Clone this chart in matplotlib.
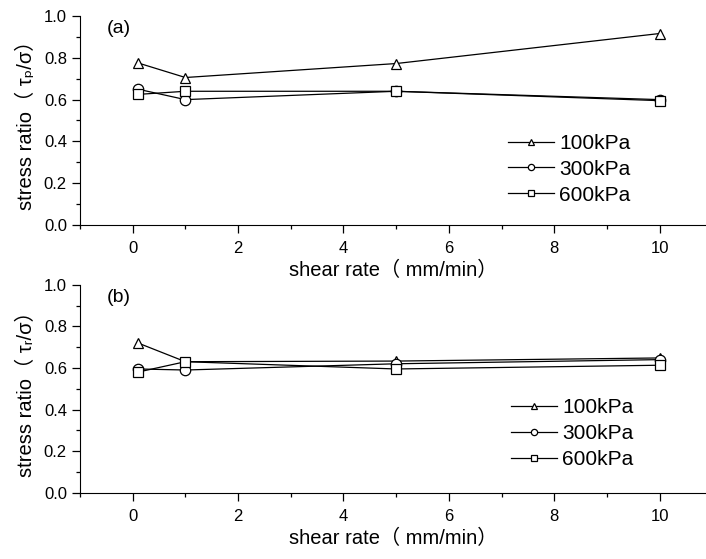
import matplotlib
matplotlib.use('Agg')
import matplotlib.pyplot as plt
from matplotlib.ticker import MultipleLocator

plt.rcParams['font.family'] = ['Liberation Sans', 'Noto Sans CJK SC', 'DejaVu Sans']

rate = [0.1, 1, 5, 10]
labels = ['100kPa', '300kPa', '600kPa']
markers = ['^', 'o', 's']

# (a) peak stress ratio
peak_100 = [0.776, 0.706, 0.773, 0.917]
peak_300 = [0.650, 0.600, 0.640, 0.600]
peak_600 = [0.625, 0.640, 0.640, 0.595]

# (b) residual stress ratio
res_100 = [0.720, 0.630, 0.633, 0.648]
res_300 = [0.595, 0.590, 0.620, 0.640]
res_600 = [0.580, 0.630, 0.595, 0.613]

fig = plt.figure(figsize=(7.06, 5.59), dpi=100)
ax1 = fig.add_axes([0.1133, 0.598, 0.8867, 0.373])
ax2 = fig.add_axes([0.1133, 0.1186, 0.8867, 0.372])

panels = [(ax1, [peak_100, peak_300, peak_600], '(a)', 'stress ratio（ τₚ/σ）', (0.684, 0.436)),
          (ax2, [res_100, res_300, res_600], '(b)', 'stress ratio（ τᵣ/σ）', (0.689, 0.454))]

for ax, series, tag, ylab, lpos in panels:
    for vals, lab, m in zip(series, labels, markers):
        ax.plot(rate, vals, color='k', lw=0.9, marker=m, ms=7.5,
                mfc='white', mec='k', mew=0.9, label=lab)
    ax.set_xlim(-1, 10.88)
    ax.set_ylim(0, 1.0)
    ax.xaxis.set_major_locator(MultipleLocator(2))
    ax.xaxis.set_minor_locator(MultipleLocator(1))
    ax.yaxis.set_major_locator(MultipleLocator(0.2))
    ax.yaxis.set_minor_locator(MultipleLocator(0.1))
    ax.spines['top'].set_visible(False)
    ax.spines['right'].set_visible(False)
    ax.tick_params(which='major', direction='out', length=5.8, width=0.9,
                   labelsize=12, pad=3.6)
    ax.tick_params(axis='x', which='major', pad=5.8)
    ax.tick_params(which='minor', direction='out', length=3, width=0.9)
    ax.set_xlabel('shear rate（ mm/min）', fontsize=14.5, labelpad=4)
    ax.set_ylabel(ylab, fontsize=14.5, labelpad=5.5)
    ax.text(0.043, 0.98, tag, transform=ax.transAxes, fontsize=14, va='top')
    ax.legend(loc='upper left', bbox_to_anchor=lpos, frameon=False,
              fontsize=15, handlelength=2.2, handletextpad=0.25,
              labelspacing=0.33, markerscale=0.6, borderpad=0, borderaxespad=0)

fig.savefig('out.png', dpi=100)
